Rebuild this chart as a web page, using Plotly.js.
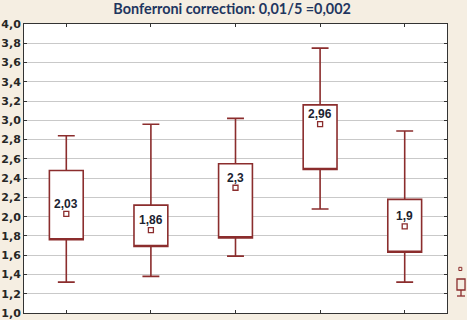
<!DOCTYPE html>
<html>
<head>
<meta charset="utf-8">
<script src="https://cdn.plot.ly/plotly-3.0.1.min.js"></script>
<style>
html,body{margin:0;padding:0;background:#f5eee2;}
#chart{width:467px;height:320px;}
</style>
</head>
<body>
<div id="chart"></div>
<script>
// Data
const categories = ['1', '2', '3', '4', '5'];
const means = [2.03, 1.86, 2.30, 2.96, 1.90];
const meanLabels = ['2,03', '1,86', '2,3', '2,96', '1,9'];
const boxLow = [1.76, 1.69, 1.78, 2.49, 1.63];
const boxHigh = [2.48, 2.12, 2.55, 3.16, 2.18];
const whiskerLow = [1.32, 1.38, 1.59, 2.08, 1.32];
const whiskerHigh = [2.84, 2.96, 3.02, 3.75, 2.89];
const yTickVals = [1.0, 1.2, 1.4, 1.6, 1.8, 2.0, 2.2, 2.4, 2.6, 2.8, 3.0, 3.2, 3.4, 3.6, 3.8, 4.0];
const yTickText = ['1,0', '1,2', '1,4', '1,6', '1,8', '2,0', '2,2', '2,4', '2,6', '2,8', '3,0', '3,2', '3,4', '3,6', '3,8', '4,0'];
const titleText = 'Bonferroni correction: 0,01/5 =0,002';

const red = '#8b2d2d';

const boxTrace = {
  type: 'box',
  x: categories,
  q1: boxLow,
  median: boxLow,
  q3: boxHigh,
  lowerfence: whiskerLow,
  upperfence: whiskerHigh,
  width: 0.4,
  whiskerwidth: 0.5,
  fillcolor: '#ffffff',
  line: {color: red, width: 1.6},
  boxpoints: false,
  hoverinfo: 'skip',
  showlegend: false
};

const meanTrace = {
  type: 'scatter',
  mode: 'markers',
  x: categories,
  y: means,
  marker: {symbol: 'square-open', size: 5, color: red, line: {color: red, width: 1.3}},
  cliponaxis: false,
  showlegend: false,
  hoverinfo: 'skip'
};

// On a category axis, annotations are placed by category index
const labelAnnotations = categories.map((c, i) => ({
  x: i, y: means[i], xref: 'x', yref: 'y',
  text: meanLabels[i],
  showarrow: false,
  xanchor: 'center', yanchor: 'bottom',
  yshift: 1,
  font: {family: 'Liberation Sans, Arial, sans-serif', size: 12, color: '#1b2330', weight: 'bold'}
}));

const layout = {
  width: 467,
  height: 320,
  paper_bgcolor: '#f5eee2',
  plot_bgcolor: '#ffffff',
  margin: {l: 24, r: 20, t: 24, b: 7},
  showlegend: false,
  title: {
    text: titleText,
    font: {family: 'Lato, Open Sans, sans-serif', size: 14.4, color: '#1f3660', weight: 'bold'},
    x: 0.497, xanchor: 'center', xref: 'container',
    y: 0.973, yanchor: 'middle', yref: 'container'
  },
  xaxis: {
    type: 'category',
    range: [-0.5, 4.5],
    tickvals: categories,
    showticklabels: false,
    ticks: 'inside',
    ticklen: 3,
    tickcolor: '#333333',
    showline: true,
    linecolor: '#333333',
    linewidth: 1,
    mirror: 'ticks',
    showgrid: false,
    zeroline: false
  },
  yaxis: {
    range: [1, 4],
    tickvals: yTickVals,
    ticktext: yTickText,
    ticks: 'inside',
    ticklen: 3,
    tickcolor: '#333333',
    showline: true,
    linecolor: '#333333',
    linewidth: 1,
    mirror: 'ticks',
    showgrid: true,
    gridcolor: '#c9c9c9',
    gridwidth: 1,
    zeroline: false,
    tickfont: {family: 'DejaVu Sans, sans-serif', size: 11, color: '#262626', weight: 'bold'}
  },
  annotations: labelAnnotations,
  shapes: [
    {type: 'rect', xref: 'paper', yref: 'paper', x0: 1.028, x1: 1.035, y0: 0.147, y1: 0.158, line: {color: red, width: 1}},
    {type: 'rect', xref: 'paper', yref: 'paper', x0: 1.0236, x1: 1.0426, y0: 0.0796, y1: 0.1176, line: {color: red, width: 1.3}},
    {type: 'line', xref: 'paper', yref: 'paper', x0: 1.0331, x1: 1.0331, y0: 0.0796, y1: 0.0588, line: {color: red, width: 1.3}},
    {type: 'line', xref: 'paper', yref: 'paper', x0: 1.0236, x1: 1.0426, y0: 0.0588, y1: 0.0588, line: {color: red, width: 1.3}}
  ]
};

Plotly.newPlot('chart', [boxTrace, meanTrace], layout, {displayModeBar: false, staticPlot: true});
</script>
</body>
</html>
